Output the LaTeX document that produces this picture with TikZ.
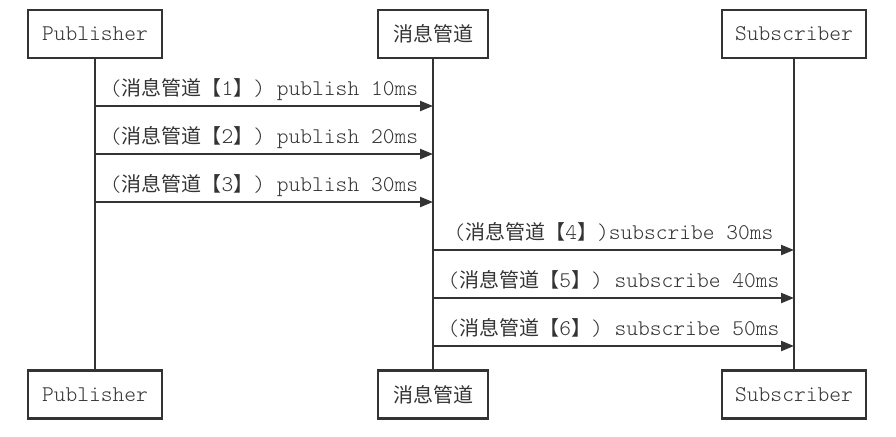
\documentclass[tikz,border=0pt]{standalone}
\usepackage{fontspec}
\setmonofont{Latin Modern Mono Light}
\newfontfamily\cjkfont{Noto Sans CJK SC}
\usetikzlibrary{arrows.meta}
\newcommand\latinfont{\ttfamily\fontsize{22.4}{26}\selectfont}
\newcommand\hanfont{\cjkfont\fontsize{20}{26}\selectfont}
\newcommand\msglabel[2]{\latinfont(\hanfont 消息管道【\latinfont #1\hanfont 】\latinfont)#2}
\begin{document}
\begin{tikzpicture}[x=1pt,y=-1pt,
  actor/.style={draw=black!80, line width=2.5pt, fill=white, minimum height=48pt, inner sep=0pt,
    font=\latinfont, text=black!80},
  life/.style={draw=black!80, line width=2.5pt},
  msgarrow/.style={draw=black!80, line width=2.2pt, -{Triangle[length=13pt,width=10pt]}},
  lbl/.style={anchor=base, inner sep=0pt, font=\latinfont, text=black!80}]
\useasboundingbox (0,0) rectangle (896,436);
% actors
\node[actor, minimum width=134pt] (p1) at (95,34) {Publisher};
\node[actor, minimum width=110pt, font=\hanfont] (m1) at (433,34) {消息管道};
\node[actor, minimum width=144pt] (s1) at (794,34) {Subscriber};
\node[actor, minimum width=134pt] (p2) at (95,394.5) {Publisher};
\node[actor, minimum width=110pt, font=\hanfont] (m2) at (433,394.5) {消息管道};
\node[actor, minimum width=144pt] (s2) at (794,394.5) {Subscriber};
% lifelines
\draw[life] (p1) -- (p2);
\draw[life] (m1) -- (m2);
\draw[life] (s1) -- (s2);
% message points
\foreach \i/\y in {1/106,2/154,3/202}{
  \coordinate (pa\i) at (95,\y);
  \coordinate (ma\i) at (433,\y);
}
\foreach \i/\y in {4/250,5/298,6/346}{
  \coordinate (mb\i) at (433,\y);
  \coordinate (sb\i) at (794,\y);
}
\draw[msgarrow] (pa1) -- (ma1);
\draw[msgarrow] (pa2) -- (ma2);
\draw[msgarrow] (pa3) -- (ma3);
\draw[msgarrow] (mb4) -- (sb4);
\draw[msgarrow] (mb5) -- (sb5);
\draw[msgarrow] (mb6) -- (sb6);
\node[lbl] (l1) at (264,95) {\msglabel{1}{ publish 10ms}};
\node[lbl] (l2) at (264,143) {\msglabel{2}{ publish 20ms}};
\node[lbl] (l3) at (264,191) {\msglabel{3}{ publish 30ms}};
\node[lbl] (l4) at (613.5,239) {\msglabel{4}{subscribe 30ms}};
\node[lbl] (l5) at (613.5,287) {\msglabel{5}{ subscribe 40ms}};
\node[lbl] (l6) at (613.5,335) {\msglabel{6}{ subscribe 50ms}};
\end{tikzpicture}
\end{document}
